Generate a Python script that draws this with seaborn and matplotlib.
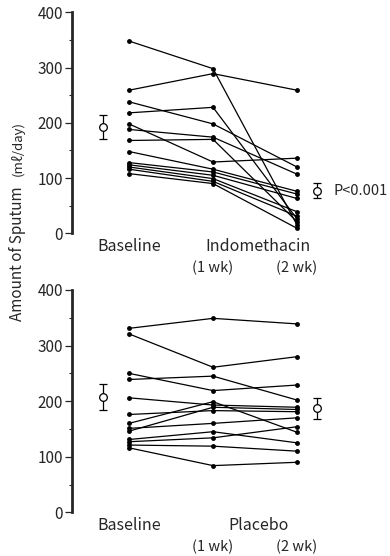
import numpy as np
import pandas as pd
import matplotlib
matplotlib.use("Agg")
import matplotlib.pyplot as plt
import seaborn as sns

# values (ml/day), one entry per subject
times = ["Baseline", "1 wk", "2 wk"]

indo_base = [348, 259, 238, 218, 198, 188, 168, 148, 128, 124, 120, 116, 108]
indo_1wk = [298, 289, 198, 228, 129, 174, 170, 116, 111, 105, 99, 94, 90]
indo_2wk = [15, 259, 120, 26, 136, 107, 21, 76, 71, 63, 39, 31, 9]

plac_base = [331, 321, 239, 250, 160, 206, 146, 176, 151, 131, 127, 121, 116]
plac_1wk = [349, 261, 245, 219, 199, 193, 189, 183, 160, 145, 134, 119, 84]
plac_2wk = [339, 280, 202, 229, 144, 189, 185, 181, 170, 125, 154, 110, 90]

# mean +- error shown beside baseline and 2 wk
indo_mean = [193, 77]
indo_err = [22, 14]
plac_mean = [207, 187]
plac_err = [23, 19]

sns.set_style("ticks")
plt.rcParams["font.family"] = ["Noto Sans CJK JP", "DejaVu Sans"]
plt.rcParams["font.size"] = 11


def long_table(base, wk1, wk2):
    rows = []
    for i, vals in enumerate(zip(base, wk1, wk2)):
        for t, v in zip(times, vals):
            rows.append({"subject": i, "time": t, "value": v})
    df = pd.DataFrame(rows)
    df["pos"] = df["time"].map({t: k for k, t in enumerate(times)})
    return df


W, H = 390, 556
fig = plt.figure(figsize=(W / 100, H / 100), dpi=100)
ax_top = fig.add_axes([72 / W, (H - 233.3) / H, (W - 72) / W, 221 / H])
ax_bot = fig.add_axes([72 / W, (H - 512.3) / H, (W - 72) / W, 222.3 / H])

panels = [
    (ax_top, long_table(indo_base, indo_1wk, indo_2wk), indo_mean, indo_err, "Indomethacin"),
    (ax_bot, long_table(plac_base, plac_1wk, plac_2wk), plac_mean, plac_err, "Placebo"),
]

for ax, df, mean, err, drug in panels:
    sns.lineplot(data=df, x="pos", y="value", units="subject", estimator=None,
                 color="black", lw=0.9, marker="o", markersize=3.5,
                 markeredgewidth=0, ax=ax)
    ax.errorbar([-0.31, 2.24], mean, yerr=err, fmt="o", ms=5.5, mfc="white",
                mec="black", mew=0.9, ecolor="black", elinewidth=0.9,
                capsize=3, capthick=0.9)

    ax.set_xlim(-0.679, 3.107)
    ax.set_ylim(0, 400)
    ax.set_yticks([0, 100, 200, 300, 400])
    ax.set_yticks([50, 150, 250, 350], minor=True)
    ax.tick_params(axis="y", which="major", length=5, width=0.9, pad=1.5, labelsize=11)
    ax.tick_params(axis="y", which="minor", length=2.5, width=0.8)
    ax.set_xticks([])
    ax.set_xlabel("")
    ax.set_ylabel("")
    sns.despine(ax=ax, bottom=True)
    ax.spines["left"].set_linewidth(2)
    ax.patch.set_alpha(0)

    tr = ax.get_xaxis_transform()
    ax.text(0, -0.02, "Baseline", transform=tr, ha="center", va="top", fontsize=11.5)
    ax.text(1.54, -0.02, drug, transform=tr, ha="center", va="top", fontsize=11.5)
    ax.text(1, -0.125, "(1 wk)", transform=tr, ha="center", va="top", fontsize=10.5)
    ax.text(2, -0.125, "(2 wk)", transform=tr, ha="center", va="top", fontsize=10.5)

ax_top.text(2.43, indo_mean[1], "P<0.001", ha="left", va="center", fontsize=10.5)

fig.text(18 / W, 1 - 254 / H, "Amount of Sputum", rotation=90, ha="center",
         va="center", fontsize=11)
fig.text(18 / W, 1 - 149 / H, "(mℓ/day)", rotation=90, ha="center",
         va="center", fontsize=9.5)

fig.savefig("out.png", dpi=100)
